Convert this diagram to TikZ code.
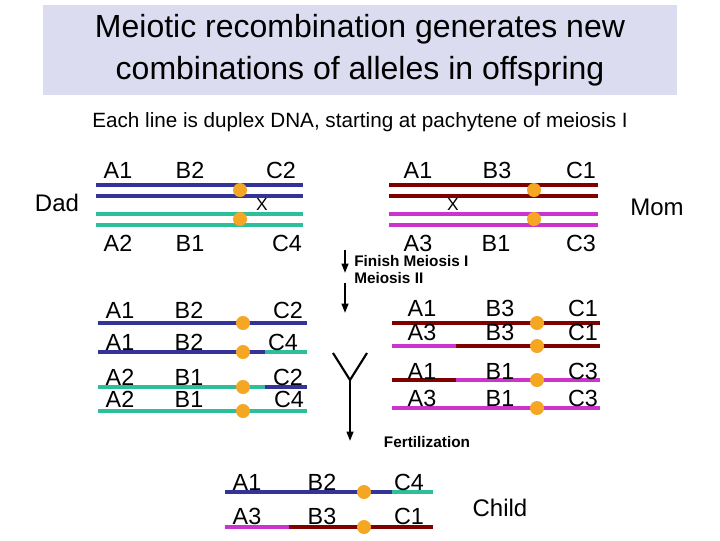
\documentclass[tikz,border=0pt]{standalone}
\usepackage{fontspec}
\setmainfont{Liberation Sans}
\usetikzlibrary{arrows.meta}
\definecolor{navy}{HTML}{333399}
\definecolor{teal2}{HTML}{2DBF9A}
\definecolor{dred}{HTML}{800000}
\definecolor{mag}{HTML}{CC33CC}
\definecolor{org}{HTML}{F5A623}
\definecolor{ttl}{HTML}{DCDCF0}
\begin{document}
\begin{tikzpicture}[x=0.75pt,y=-0.75pt,
  lab/.style={font=\fontsize{17.5}{18}\selectfont,inner sep=0pt},
  chr/.style={line width=2.6pt},
  cen/.style={circle,fill=org,inner sep=0pt,minimum size=10.5pt},
  bold/.style={font=\fontsize{11.5}{12.5}\selectfont\bfseries,inner sep=0pt,align=left,anchor=north west},
  arr/.style={-{Triangle[length=7pt,width=5pt]},line width=1.4pt}]
\useasboundingbox (0,0) rectangle (720,540);
\node[fill=ttl,minimum width=634*0.75pt,minimum height=90*0.75pt,inner sep=0pt,font=\fontsize{24}{31.5}\selectfont,align=center] (title) at (360,50) {Meiotic recombination generates new\\combinations of alleles in offspring};
\node[font=\fontsize{15.5}{16}\selectfont] (sub) at (360,122) {Each line is duplex DNA, starting at pachytene of meiosis I};
% Dad top
\draw[chr,navy] (96,185) -- (303,185); \draw[chr,navy] (96,196) -- (303,196);
\draw[chr,teal2] (96,214) -- (303,214); \draw[chr,teal2] (96,225) -- (303,225);
\node[cen] (d1) at (240,190) {}; \node[cen] (d2) at (240,219) {};
\node[inner sep=0pt,font=\fontsize{13}{13}\selectfont] (dx) at (262,205) {X};
\node[lab] (a) at (118,170) {A1}; \node[lab] (b) at (190,170) {B2}; \node[lab] (c) at (281,170) {C2};
\node[lab] (a) at (118,243) {A2}; \node[lab] (b) at (190,243) {B1}; \node[lab] (c) at (287,243) {C4};
\node[font=\fontsize{18}{18}\selectfont] (dad) at (57,203) {Dad};
% Mom top
\draw[chr,dred] (389,185) -- (598,185); \draw[chr,dred] (389,196) -- (598,196);
\draw[chr,mag] (389,214) -- (598,214); \draw[chr,mag] (389,225) -- (598,225);
\node[cen] (m1) at (534,190) {}; \node[cen] (m2) at (534,219) {};
\node[inner sep=0pt,font=\fontsize{13}{13}\selectfont] (mx) at (453,205) {X};
\node[lab] at (418,170) {A1}; \node[lab] at (497,170) {B3}; \node[lab] at (581,170) {C1};
\node[lab] at (418,243) {A3}; \node[lab] at (496,243) {B1}; \node[lab] at (581,243) {C3};
\node[font=\fontsize{18}{18}\selectfont] (mom) at (657,207) {Mom};
% arrows
\coordinate (p1) at (345,250); \coordinate (p2) at (345,273);
\coordinate (p3) at (345,283); \coordinate (p4) at (345,313);
\draw[arr] (p1) -- (p2); \draw[arr] (p3) -- (p4);
\node[bold] (fin) at (354,255) {Finish Meiosis I\\Meiosis II};
% Dad bottom
\draw[chr,navy] (98,323) -- (307,323);
\draw[chr,navy] (98,352) -- (265,352); \draw[chr,teal2] (265,352) -- (307,352);
\draw[chr,teal2] (98,387) -- (265,387); \draw[chr,navy] (265,387) -- (307,387);
\draw[chr,teal2] (98,411) -- (307,411);
\foreach \y in {323,352,387,411} \node[cen] at (243,\y) {};
\node[lab] at (120,310) {A1}; \node[lab] at (189,310) {B2}; \node[lab] at (288,310) {C2};
\node[lab] at (120,342) {A1}; \node[lab] at (189,342) {B2}; \node[lab] at (283,342) {C4};
\node[lab] at (120,377) {A2}; \node[lab] at (189,377) {B1}; \node[lab] at (288,377) {C2};
\node[lab] at (120,399) {A2}; \node[lab] at (189,399) {B1}; \node[lab] at (289,399) {C4};
% Mom bottom
\draw[chr,dred] (392,323) -- (600,323);
\draw[chr,mag] (392,346) -- (456,346); \draw[chr,dred] (456,346) -- (600,346);
\draw[chr,dred] (392,380) -- (456,380); \draw[chr,mag] (456,380) -- (600,380);
\draw[chr,mag] (392,408) -- (600,408);
\foreach \y in {323,346,380,408} \node[cen] at (537,\y) {};
\node[lab] at (422,308) {A1}; \node[lab] at (500,308) {B3}; \node[lab] at (583,308) {C1};
\node[lab] at (422,332) {A3}; \node[lab] at (500,332) {B3}; \node[lab] at (583,332) {C1};
\node[lab] at (422,371) {A1}; \node[lab] at (500,371) {B1}; \node[lab] at (583,371) {C3};
\node[lab] at (422,398) {A3}; \node[lab] at (500,398) {B1}; \node[lab] at (583,398) {C3};
% Y fertilization
\coordinate (yl) at (333,353); \coordinate (yr) at (367,353); \coordinate (yc) at (350,380); \coordinate (ye) at (350,441);
\draw[line width=1.6pt] (yl) -- (yc) -- (yr);
\draw[arr] (yc) -- (ye);
\node[font=\fontsize{11.5}{12}\selectfont\bfseries] (fert) at (427,442) {Fertilization};
% Child
\draw[chr,navy] (225,492) -- (392,492); \draw[chr,teal2] (392,492) -- (433,492);
\draw[chr,mag] (225,527) -- (289,527); \draw[chr,dred] (289,527) -- (433,527);
\node[cen] at (364,492) {}; \node[cen] at (364,527) {};
\node[lab] at (247,482) {A1}; \node[lab] at (322,482) {B2}; \node[lab] at (409,482) {C4};
\node[lab] at (247,516) {A3}; \node[lab] at (322,516) {B3}; \node[lab] at (409,516) {C1};
\node[font=\fontsize{18}{18}\selectfont] (child) at (500,508) {Child};
\end{tikzpicture}
\end{document}
